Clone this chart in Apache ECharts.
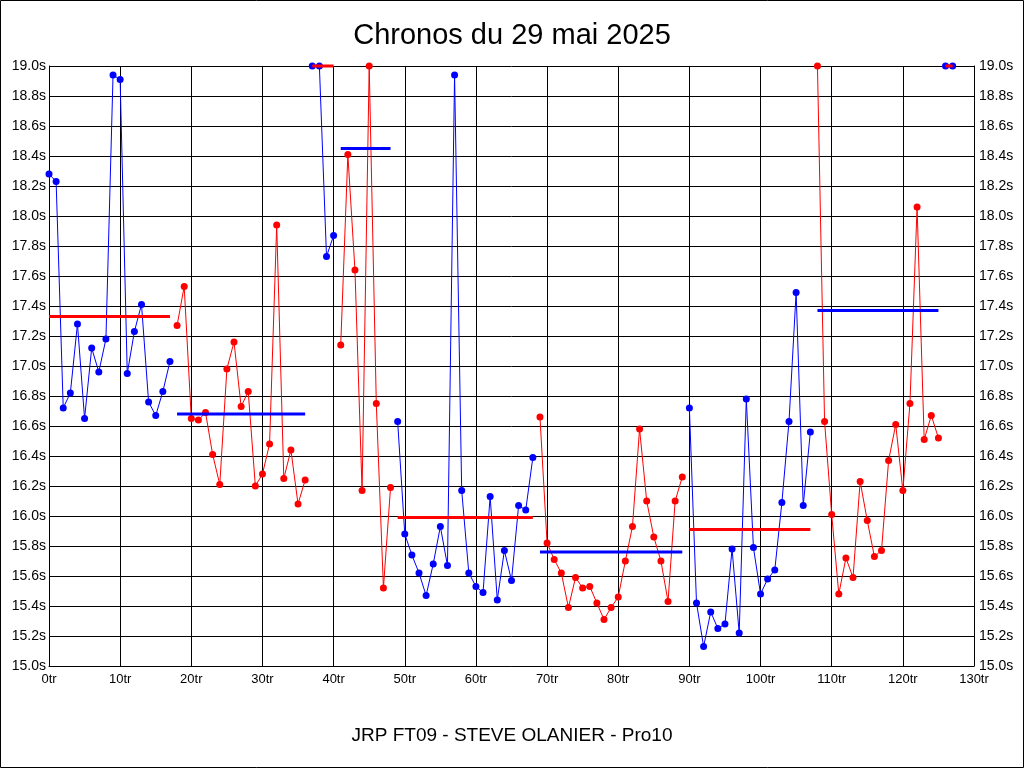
<!DOCTYPE html>
<html>
<head>
<meta charset="utf-8">
<script src="https://cdn.jsdelivr.net/npm/echarts@6/dist/echarts.min.js"></script>
<style>
  html, body { margin: 0; padding: 0; background: #fff; }
  #chart { width: 1024px; height: 768px; }
</style>
</head>
<body>
<div id="chart"></div>
<script>
// Lap times (seconds), lap index = position in array (values above 19.0 shown clamped at 19.0)
const lapTimes = [
  18.28, 18.23, 16.72, 16.82, 17.28, 16.65, 17.12, 16.96, 17.18, 18.94, 18.91, 16.95, 17.23, 17.41, 16.76, 16.67, 16.83, 17.03,
  17.27, 17.53, 16.65, 16.64, 16.69, 16.41, 16.21, 16.98, 17.16, 16.73, 16.83, 16.20, 16.28, 16.48, 17.94, 16.25, 16.44, 16.08, 16.24,
  19.0, 19.0, 17.73, 17.87,
  17.14, 18.41, 17.64, 16.17, 19.0, 16.75, 15.52, 16.19,
  16.63, 15.88, 15.74, 15.62, 15.47, 15.68, 15.93, 15.67, 18.94, 16.17, 15.62, 15.53, 15.49, 16.13, 15.44, 15.77, 15.57, 16.07, 16.04, 16.39,
  16.66, 15.82, 15.71, 15.62, 15.39, 15.59, 15.52, 15.53, 15.42, 15.31, 15.39, 15.46, 15.70, 15.93, 16.58, 16.10, 15.86, 15.70, 15.43, 16.10, 16.26,
  16.72, 15.42, 15.13, 15.36, 15.25, 15.28, 15.78, 15.22, 16.78, 15.79, 15.48, 15.58, 15.64, 16.09, 16.63, 17.49, 16.07, 16.56,
  19.0, 16.63, 16.01, 15.48, 15.72, 15.59, 16.23, 15.97, 15.73, 15.77, 16.37, 16.61, 16.17, 16.75, 18.06, 16.51, 16.67, 16.52,
  19.0, 19.0
];
// First lap of each stint
const stintStarts = [0, 18, 37, 41, 49, 69, 90, 108, 126];
// Stint average lap time (as drawn, clamped at 19.0)
const stintAverages = [17.33, 16.68, 19.0, 18.45, 15.99, 15.76, 15.91, 17.37, 19.0];
const stintColors = ['#0000ff', '#ff0000'];
const yTicks = { min: 15.0, max: 19.0, step: 0.2 };
const xTicks = { min: 0, max: 130, step: 10 };
const titleText = 'Chronos du 29 mai 2025';
const subtitleText = 'JRP FT09 - STEVE OLANIER - Pro10';

const FONT = '"Liberation Sans", Arial, sans-serif';
const series = [];
const avgSeries = [];
stintStarts.forEach((start, i) => {
  const end = i + 1 < stintStarts.length ? stintStarts[i + 1] : lapTimes.length;
  const col = stintColors[i % 2];
  const other = stintColors[(i + 1) % 2];
  const data = lapTimes.slice(start, end).map((v, k) => [start + k, v]);
  series.push({
    type: 'line', name: 'Relais ' + (i + 1), data: data,
    symbol: 'circle', symbolSize: 7, showSymbol: true, clip: false,
    lineStyle: { color: col, width: 1 }, itemStyle: { color: col },
    z: 3
  });
  avgSeries.push({
    type: 'line', name: 'Moyenne ' + (i + 1),
    data: [[start, stintAverages[i]], [end - 1, stintAverages[i]]],
    symbol: 'none', clip: false,
    lineStyle: { color: other, width: 3 },
    z: 4
  });
});

const chart = echarts.init(document.getElementById('chart'), null, { renderer: 'canvas' });
const yLabel = v => v.toFixed(1) + 's';
chart.setOption({
  animation: false,
  backgroundColor: '#ffffff',
  title: [
    { text: titleText, left: 'center', top: 21, padding: 0,
      textStyle: { fontFamily: FONT, fontSize: 29, fontWeight: 'normal', color: '#000', lineHeight: 29 } },
    { text: subtitleText, left: 'center', top: 726, padding: 0,
      textStyle: { fontFamily: FONT, fontSize: 19, fontWeight: 'normal', color: '#000', lineHeight: 19 } }
  ],
  grid: { left: 49, right: 50, top: 66, bottom: 102, containLabel: false, show: false },
  xAxis: {
    type: 'value', min: xTicks.min, max: xTicks.max, interval: xTicks.step,
    axisLine: { show: true, onZero: false, lineStyle: { color: '#000', width: 1 } },
    axisTick: { show: false },
    axisLabel: { formatter: '{value}tr', color: '#000', fontFamily: FONT, fontSize: 13, margin: 7 },
    splitLine: { show: true, lineStyle: { color: '#000', width: 1 } }
  },
  yAxis: [
    {
      type: 'value', min: yTicks.min, max: yTicks.max, interval: yTicks.step, position: 'left',
      axisLine: { show: true, lineStyle: { color: '#000', width: 1 } },
      axisTick: { show: false },
      axisLabel: { formatter: yLabel, color: '#000', fontFamily: FONT, fontSize: 14, margin: 3 },
      splitLine: { show: true, lineStyle: { color: '#000', width: 1 } }
    },
    {
      type: 'value', min: yTicks.min, max: yTicks.max, interval: yTicks.step, position: 'right',
      axisLine: { show: true, lineStyle: { color: '#000', width: 1 } },
      axisTick: { show: false },
      axisLabel: { formatter: yLabel, color: '#000', fontFamily: FONT, fontSize: 14, margin: 5 },
      splitLine: { show: false }
    }
  ],
  graphic: [
    { type: 'rect', silent: true, z: 100,
      shape: { x: 0.5, y: 0.5, width: 1023, height: 767 },
      style: { fill: null, stroke: '#000', lineWidth: 1 } }
  ],
  series: series.concat(avgSeries)
});
</script>
</body>
</html>
